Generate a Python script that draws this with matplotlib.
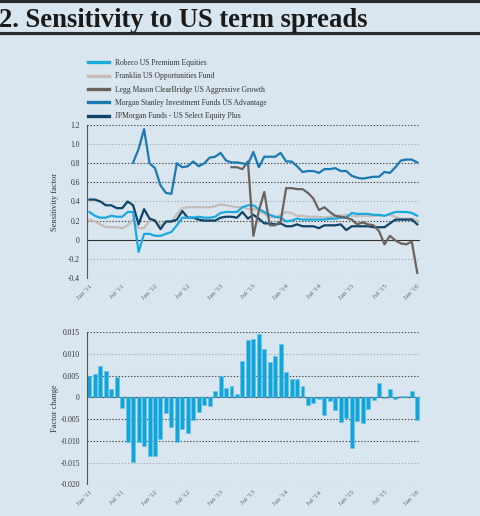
import matplotlib
matplotlib.use('Agg')
import matplotlib.pyplot as plt
from matplotlib.lines import Line2D
import numpy as np

nan = np.nan

# eje de tiempo: enero 2011 a enero 2016, mensual
meses = list(range(61))
etiquetas = ["Jan '11", "Jul '11", "Jan '12", "Jul '12", "Jan '13", "Jul '13",
             "Jan '14", "Jul '14", "Jan '15", "Jul '15", "Jan '16"]
pos_etiquetas = list(range(0, 61, 6))

robeco = [0.29, 0.25, 0.23, 0.23, 0.25, 0.24, 0.24, 0.29, 0.29, -0.13, 0.06, 0.06, 0.04, 0.04, 0.06, 0.08,
          0.15, 0.23, 0.23, 0.23, 0.24, 0.23, 0.23, 0.24, 0.28, 0.29, 0.29, 0.29, 0.34, 0.36, 0.36, 0.32,
          0.29, 0.26, 0.24, 0.23, 0.19, 0.20, 0.22, 0.21, 0.21, 0.21, 0.21, 0.21, 0.22, 0.22, 0.23, 0.23,
          0.28, 0.27, 0.27, 0.27, 0.26, 0.26, 0.25, 0.27, 0.29, 0.29, 0.29, 0.28, 0.25]
franklin = [0.21, 0.19, 0.16, 0.13, 0.13, 0.13, 0.12, 0.15, 0.21, 0.12, 0.12, 0.20, 0.21, 0.15, 0.18, 0.19,
            0.27, 0.33, 0.34, 0.34, 0.34, 0.34, 0.34, 0.35, 0.37, 0.36, 0.35, 0.34, 0.34, 0.32, 0.32, 0.31,
            0.27, 0.24, 0.23, 0.26, 0.29, 0.28, 0.25, 0.25, 0.24, 0.24, 0.24, 0.23, 0.24, 0.25, 0.25, 0.26,
            0.25, 0.25, 0.25, 0.25, 0.25, 0.25, 0.25, 0.26, 0.24, 0.22, 0.22, 0.22, 0.20]
legg_mason = [nan] * 26 + [0.76, 0.76, 0.74, 0.82, 0.04, 0.30, 0.50, 0.15, 0.15, 0.19, 0.54, 0.54, 0.53,
                           0.53, 0.49, 0.43, 0.31, 0.34, 0.29, 0.25, 0.24, 0.23, 0.21, 0.16, 0.18, 0.16,
                           0.15, 0.09, -0.05, 0.04, -0.01, -0.04, -0.05, -0.02, -0.35]
morgan_stanley = [nan] * 8 + [0.81, 0.95, 1.16, 0.80, 0.75, 0.57, 0.49, 0.48, 0.80, 0.76, 0.77, 0.82,
                              0.77, 0.80, 0.86, 0.87, 0.91, 0.83, 0.81, 0.81, 0.80, 0.79, 0.92, 0.76,
                              0.87, 0.87, 0.87, 0.91, 0.82, 0.82, 0.77, 0.71, 0.72, 0.72, 0.70, 0.74,
                              0.74, 0.75, 0.72, 0.72, 0.67, 0.65, 0.64, 0.65, 0.66, 0.66, 0.71, 0.70,
                              0.76, 0.83, 0.84, 0.84, 0.81]
jpmorgan = [0.42, 0.42, 0.40, 0.36, 0.36, 0.33, 0.33, 0.40, 0.36, 0.16, 0.32, 0.22, 0.20, 0.11, 0.19, 0.19,
            0.21, 0.30, 0.23, 0.23, 0.21, 0.20, 0.20, 0.20, 0.23, 0.24, 0.24, 0.23, 0.29, 0.22, 0.26, 0.22,
            0.17, 0.17, 0.16, 0.17, 0.14, 0.14, 0.16, 0.14, 0.14, 0.14, 0.12, 0.15, 0.15, 0.15, 0.16, 0.10,
            0.14, 0.14, 0.14, 0.14, 0.13, 0.13, 0.13, 0.17, 0.21, 0.21, 0.21, 0.21, 0.16]

cambio = [0.0050, 0.0053, 0.0073, 0.0061, 0.0019, 0.0046, -0.0024, -0.0103, -0.0149, -0.0103, -0.0112,
          -0.0136, -0.0134, -0.0095, -0.0037, -0.0069, -0.0102, -0.0073, -0.0081, -0.0052, -0.0033,
          -0.0017, -0.0021, 0.0014, 0.0050, 0.0021, 0.0026, 0.0008, 0.0083, 0.0131, 0.0133, 0.0146,
          0.0110, 0.0082, 0.0095, 0.0123, 0.0058, 0.0042, 0.0042, 0.0025, -0.0018, -0.0014, -0.0005,
          -0.0041, -0.0008, -0.0030, -0.0057, -0.0048, -0.0117, -0.0055, -0.0058, -0.0027, -0.0006,
          0.0033, -0.0001, 0.0020, -0.0004, 0.0004, 0.0003, 0.0014, -0.0053]

nombres = ['Robeco US Premium Equities', 'Franklin US Opportunities Fund',
           'Legg Mason ClearBridge US Aggressive Growth',
           'Morgan Stanley Investment Funds US Advantage', 'JPMorgan Funds - US Select Equity Plus']
colores = ['#1aa8df', '#c5bdb9', '#6b625e', '#1b79b1', '#0f4468']

fondo = '#dae6ef'
serif = 'Liberation Serif'
plt.rcParams['font.family'] = serif

fig = plt.figure(figsize=(4.8, 5.16), dpi=100, facecolor=fondo)
W, H = 480.0, 516.0

# titulo y lineas
fig.text(-0.002, 1 - 20.5 / H, '2. Sensitivity to US term spreads', fontsize=19.2, fontweight='bold',
         family=serif, va='center', ha='left', color='#1a1a1a')
for y, lw in [(1.2, 3.0), (31.5, 0.8), (34.0, 1.6)]:
    fig.add_artist(Line2D([0, 1], [1 - y / H, 1 - y / H], transform=fig.transFigure,
                          color='#2a2a2a', lw=lw))


def preparar(ax, yticks, ylabels, oscuras, claras):
    ax.set_facecolor('none')
    for s in ['top', 'right', 'bottom']:
        ax.spines[s].set_visible(False)
    ax.spines['left'].set_color('#555555')
    ax.spines['left'].set_linewidth(0.8)
    for y in oscuras:
        ax.axhline(y, color='#444444', lw=0.8, ls=(0, (1.2, 1.6)), zorder=0)
    for y in claras:
        ax.axhline(y, color='#a8aeb3', lw=0.8, ls=(0, (1.2, 1.6)), zorder=0)
    ax.axhline(0, color='#333333', lw=0.8, zorder=1)
    ax.set_yticks(yticks)
    ax.set_yticklabels(ylabels)
    ax.tick_params(axis='y', length=0, pad=5, labelsize=5.5, labelcolor='#333333')
    ax.set_xticks(pos_etiquetas)
    ax.set_xticklabels(etiquetas, rotation=45, ha='right', rotation_mode='anchor')
    ax.tick_params(axis='x', length=0, pad=4, labelsize=5, labelcolor='#666666')
    ax.set_xlim(-0.5, 60.5)


# grafico de lineas
ax1 = fig.add_axes([86.7 / W, 1 - 277.7 / H, 333.3 / W, 152.4 / H])
preparar(ax1, [1.2, 1.0, 0.8, 0.6, 0.4, 0.2, 0, -0.2, -0.4],
         ['1.2', '1.0', '0.8', '0.6', '0.4', '0.2', '0', '-0.2', '-0.4'],
         [1.2, 0.8, 0.6, 0.2, -0.4], [1.0, 0.4, -0.2])
ax1.set_ylim(-0.4, 1.2)
series = [robeco, franklin, legg_mason, morgan_stanley, jpmorgan]
orden = [1, 4, 0, 2, 3]
for i in orden:
    ax1.plot(meses, series[i], color=colores[i], lw=1.6, zorder=3 + orden.index(i))
ax1.set_ylabel('Sensitivity factor', fontsize=6, color='#333333', labelpad=6)

handles = [Line2D([], [], color=c, lw=2.4) for c in colores]
fig.legend(handles, nombres, loc='upper left', bbox_to_anchor=(81 / W, 1 - 52 / H),
           frameon=False, fontsize=5.5, handlelength=2.7, handletextpad=0.8,
           labelspacing=0.7, labelcolor='#333333')

# grafico de barras
ax2 = fig.add_axes([86.7 / W, 1 - 484.3 / H, 333.3 / W, 152.3 / H])
preparar(ax2, [0.015, 0.010, 0.005, 0, -0.005, -0.010, -0.015, -0.020],
         ['0.015', '0.010', '0.005', '0', '-0.005', '-0.010', '-0.015', '-0.020'],
         [0.015, 0.005, -0.005, -0.010, -0.020], [0.010, -0.015])
ax2.set_ylim(-0.020, 0.015)
ax2.bar(meses, cambio, width=0.72, color='#12a5dc', edgecolor='#5ec3ea', lw=0.4, zorder=2)
ax2.set_ylabel('Factor change', fontsize=6, color='#333333', labelpad=1)

fig.savefig('out.png', dpi=100, facecolor=fondo)
